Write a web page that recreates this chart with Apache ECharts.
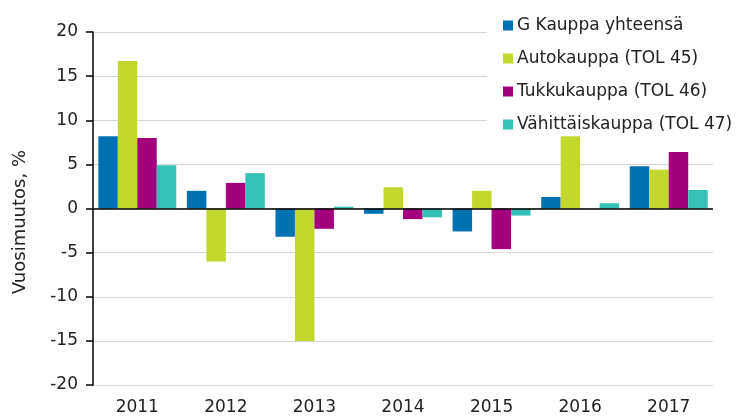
<!DOCTYPE html>
<html>
<head>
<meta charset="utf-8">
<script src="https://cdn.jsdelivr.net/npm/echarts@6/dist/echarts.min.js"></script>
<style>html,body{margin:0;padding:0;background:#fff}#c{width:738px;height:416px}</style>
</head>
<body>
<div id="c"></div>
<script>
const categories = ['2011','2012','2013','2014','2015','2016','2017'];
const seriesNames = ['G Kauppa yhteensä','Autokauppa (TOL 45)','Tukkukauppa (TOL 46)','Vähittäiskauppa (TOL 47)'];
const kauppaYhteensa = [8.2, 2.0, -3.2, -0.6, -2.6, 1.3, 4.8];
const autokauppa = [16.7, -6.0, -15.0, 2.4, 2.0, 8.2, 4.4];
const tukkukauppa = [8.0, 2.9, -2.3, -1.2, -4.6, 0.0, 6.4];
const vahittaiskauppa = [4.9, 4.0, 0.2, -1.0, -0.8, 0.6, 2.1];
const yTicks = [-20, -15, -10, -5, 0, 5, 10, 15, 20];
const yTitle = 'Vuosimuutos, %';

const colors = ['#0072B1', '#C2D82F', '#A4007E', '#36C1B8'];
const values = [kauppaYhteensa, autokauppa, tukkukauppa, vahittaiskauppa];
const font = 'DejaVu Sans, sans-serif';
const textColor = '#222';

const chart = echarts.init(document.getElementById('c'), null, {renderer: 'canvas'});
const series = values.map((v, i) => ({
  name: seriesNames[i],
  type: 'bar',
  data: v,
  barGap: '0%',
  barCategoryGap: '12%',
  itemStyle: {color: colors[i]},
  z: 2
}));
series[0].markLine = {
  silent: true,
  symbol: 'none',
  label: {show: false},
  lineStyle: {color: '#000', width: 1.5, type: 'solid'},
  data: [{yAxis: 0}],
  z: 5
};
chart.setOption({
  animation: false,
  color: colors,
  textStyle: {fontFamily: font},
  grid: {left: 93, right: 25, top: 32, bottom: 30},
  legend: {
    orient: 'vertical',
    left: 487,
    top: 5,
    padding: [12, 10, 1, 16],
    backgroundColor: '#fff',
    itemWidth: 10,
    itemHeight: 10,
    itemGap: 16,
    icon: 'rect',
    textStyle: {fontFamily: font, fontSize: 17, color: textColor, padding: [0, 0, 0, -1]},
    data: seriesNames,
    z: 10
  },
  xAxis: {
    type: 'category',
    data: categories,
    axisLine: {show: false, onZero: false},
    axisTick: {show: false},
    axisLabel: {fontFamily: font, fontSize: 17, color: textColor, margin: 14}
  },
  yAxis: {
    type: 'value',
    min: yTicks[0],
    max: yTicks[yTicks.length - 1],
    interval: 5,
    axisLine: {show: true, lineStyle: {color: '#000', width: 1.5}},
    axisTick: {show: true, length: 7, lineStyle: {color: '#000', width: 1.5}},
    axisLabel: {fontFamily: font, fontSize: 17, color: textColor, margin: 15},
    splitLine: {show: true, lineStyle: {color: '#d6d6d6', width: 1}}
  },
  graphic: [{
    type: 'text',
    left: 11,
    top: 150,
    rotation: Math.PI / 2,
    style: {text: yTitle, font: '18px ' + font, fill: textColor}
  }],
  series: series
});
</script>
</body>
</html>
